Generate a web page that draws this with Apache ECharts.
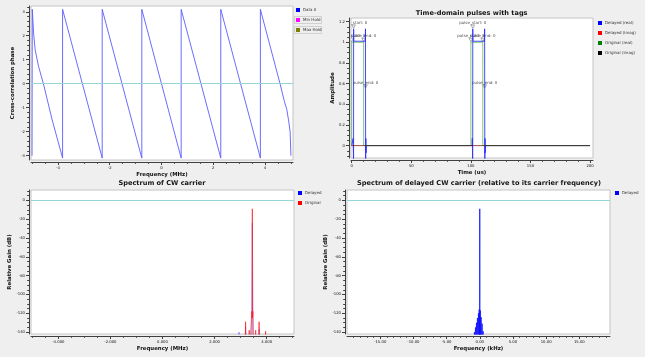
<!DOCTYPE html>
<html><head><meta charset="utf-8">
<script src="https://cdn.jsdelivr.net/npm/echarts@6/dist/echarts.min.js"></script>
<style>html,body{margin:0;padding:0;background:#efefef;}#c{width:645px;height:357px;}</style>
</head><body><div id="c"></div>
<script>
// ---------- Panel 1: cross-correlation phase ----------
const phaseFreq = [-5.0, -4.99, -4.94, -4.88, -4.75, -4.56, -4.23, -3.82, -3.82, -2.29, -2.29, -0.76, -0.76, 0.76, 0.76, 2.29, 2.29, 3.82, 3.82, 4.58, 4.75, 4.84, 4.92, 4.97, 5.0];
const phaseVal  = [-3.0, 3.1, 2.1, 1.42, 0.73, 0.0, -1.48, -3.1, 3.1, -3.1, 3.1, -3.1, 3.1, -3.1, 3.1, -3.1, 3.1, -3.1, 3.1, 0.0, -0.75, -1.07, -1.6, -2.02, -3.0];
const phaseXTicks = [-4, -2, 0, 2, 4];
const phaseYTicks = [-3, -2, -1, 0, 1, 2, 3];

// ---------- Panel 2: time-domain pulses ----------
const delayedRealT = [0, 1.1, 1.2, 1.4, 1.55, 1.6, 1.75, 11.45, 11.55, 11.6, 11.7, 11.85, 12.05, 12.2, 101.1, 101.2, 101.4, 101.55, 101.6, 101.75, 111.45, 111.55, 111.6, 111.7, 111.85, 112.05, 112.2, 200];
const delayedRealV = [0, 0, 0.07, -0.07, -0.2, 1.13, 1.01, 1.01, 1.13, 0.55, -0.2, 0.07, -0.07, 0, 0, 0.07, -0.07, -0.2, 1.13, 1.01, 1.01, 1.13, 0.55, -0.2, 0.07, -0.07, 0, 0];
const delayedImagT = [0, 200];
const delayedImagV = [0, 0];
const originalRealT = [0, 0, 10, 10, 100, 100, 110, 110, 200];
const originalRealV = [0, 1, 1, 0, 0, 1, 1, 0, 0];
const originalImagT = [0, 200];
const originalImagV = [0, 0];
const tagTime = [1.6, 11.6, 0, 10, 101.6, 111.6, 100, 110];
const tagAmp  = [1.13, 0.55, 1.0, 1.0, 1.13, 0.55, 1.0, 1.0];
const tagText = ['pulse_start: 0', 'pulse_end: 0', 'pulse_start: 0', 'pulse_end: 0', 'pulse_start: 0', 'pulse_end: 0', 'pulse_start: 0', 'pulse_end: 0'];
const timeXTicks = [0, 50, 100, 150, 200];
const timeYTicks = [0, 0.2, 0.4, 0.6, 0.8, 1, 1.2];

// ---------- Panel 3: spectrum of CW carrier ----------
const specDelFreq = [-5.05, 2.92, 2.94, 2.96, 3.17, 3.19, 3.21, 3.42, 3.45, 3.48, 3.69, 3.71, 3.73, 5.05];
const specDelDb   = [-160, -160, -140, -160, -160, -134, -160, -160, -24, -160, -160, -137, -160, -160];
const specOrigFreq = [-5.05, 3.17, 3.19, 3.21, 3.31, 3.33, 3.35, 3.41, 3.43, 3.445, 3.45, 3.455, 3.47, 3.49, 3.56, 3.58, 3.6, 3.69, 3.71, 3.73, 3.94, 3.96, 3.98, 5.05];
const specOrigDb   = [-160, -160, -129, -160, -160, -138, -160, -160, -118, -125, -9, -125, -118, -160, -160, -138, -160, -160, -129, -160, -160, -139, -160, -160];
const specXTicks = [-4, -2, 0, 2, 4];
const dbTicks = [0, -20, -40, -60, -80, -100, -120, -140];

// ---------- Panel 4: spectrum relative to carrier ----------
const relFreq = [-20, -0.9, -0.8, -0.72, -0.65, -0.57, -0.5, -0.42, -0.35, -0.27, -0.2, -0.13, -0.08, -0.03, 0, 0.03, 0.08, 0.13, 0.2, 0.27, 0.35, 0.42, 0.5, 0.57, 19.62];
const relDb   = [-160, -160, -140, -160, -135, -160, -130, -160, -125, -160, -120, -160, -116, -150, -9, -150, -117, -160, -124, -160, -131, -160, -139, -160, -160];
const relXTicks = [-15, -10, -5, 0, 5, 10, 15];

function pairs(xs, ys) { return xs.map((x, i) => [x, ys[i]]); }
function minorTicks(lo, hi, step) { const r = []; for (let v = lo; v <= hi + 1e-9; v += step) r.push(+v.toFixed(4)); return r; }

const FONT = 'DejaVu Sans';
const AX = '#404040';
const TXT = '#101010';

const grids = [
  { left: 31, top: 6, width: 262, height: 154 },
  { left: 351, top: 18, width: 242, height: 140 },
  { left: 31, top: 190, width: 263, height: 144 },
  { left: 347, top: 190, width: 263, height: 144 }
].map(g => Object.assign(g, { show: true, backgroundColor: '#ffffff', borderColor: '#c4c4c4', borderWidth: 1 }));

function majorX(gi, min, max, ticks, fmt, name, gap) {
  return { gridIndex: gi, type: 'value', position: 'bottom', min: min, max: max, offset: 2,
    axisLine: { show: true, onZero: false, lineStyle: { color: AX, width: 1 } },
    axisTick: { show: true, length: 3, customValues: ticks, lineStyle: { color: AX } },
    axisLabel: { customValues: ticks, formatter: fmt, fontSize: 3.8, margin: 4, color: TXT, fontFamily: FONT },
    splitLine: { show: false },
    name: name, nameLocation: 'middle', nameGap: gap,
    nameTextStyle: { fontSize: 5.4, fontWeight: 'bold', color: TXT, fontFamily: FONT } };
}
function minorX(gi, min, max, ticks) {
  return { gridIndex: gi, type: 'value', position: 'bottom', min: min, max: max, offset: 2,
    axisLine: { show: false, onZero: false },
    axisTick: { show: true, length: 1.8, customValues: ticks, lineStyle: { color: AX } },
    axisLabel: { show: false }, splitLine: { show: false } };
}
function majorY(gi, min, max, ticks, fmt, name, gap) {
  return { gridIndex: gi, type: 'value', position: 'left', min: min, max: max, offset: 2,
    axisLine: { show: true, onZero: false, lineStyle: { color: AX, width: 1 } },
    axisTick: { show: true, length: 3, customValues: ticks, lineStyle: { color: AX } },
    axisLabel: { customValues: ticks, formatter: fmt, fontSize: 3.8, margin: 4, color: TXT, fontFamily: FONT },
    splitLine: { show: false },
    name: name, nameLocation: 'middle', nameGap: gap,
    nameTextStyle: { fontSize: 5.4, fontWeight: 'bold', color: TXT, fontFamily: FONT } };
}
function minorY(gi, min, max, ticks) {
  return { gridIndex: gi, type: 'value', position: 'left', min: min, max: max, offset: 2,
    axisLine: { show: false, onZero: false },
    axisTick: { show: true, length: 1.8, customValues: ticks, lineStyle: { color: AX } },
    axisLabel: { show: false }, splitLine: { show: false } };
}

const f0 = v => String(v);
const f2 = v => v.toFixed(2);
const f3 = v => v.toFixed(3);

const xAxis = [
  majorX(0, -5.04, 5.08, phaseXTicks, f0, 'Frequency (MHz)', 10),
  majorX(1, -0.6, 202.5, timeXTicks, f0, 'Time (us)', 10),
  majorX(2, -5.05, 5.05, specXTicks, f3, 'Frequency (MHz)', 10),
  majorX(3, -20, 19.62, relXTicks, f2, 'Frequency (kHz)', 10),
  minorX(0, -5.04, 5.08, minorTicks(-5, 5, 0.5)),
  minorX(1, -0.6, 202.5, minorTicks(0, 200, 10)),
  minorX(2, -5.05, 5.05, minorTicks(-5, 5, 0.5)),
  minorX(3, -20, 19.62, minorTicks(-19, 19, 1))
];
const yAxis = [
  majorY(0, -3.18, 3.24, phaseYTicks, f0, 'Cross-correlation phase', 14),
  majorY(1, -0.12, 1.235, timeYTicks, f0, 'Amplitude', 14),
  majorY(2, -142, 11, dbTicks, f0, 'Relative Gain (dB)', 14),
  majorY(3, -142, 11, dbTicks, f0, 'Relative Gain (dB)', 14),
  minorY(0, -3.18, 3.24, minorTicks(-3, 3.2, 0.2)),
  minorY(1, -0.12, 1.235, minorTicks(-0.1, 1.2, 0.05)),
  minorY(2, -142, 11, minorTicks(-140, 10, 5)),
  minorY(3, -142, 11, minorTicks(-140, 10, 5))
];

const zeroLine = { silent: true, symbol: 'none', label: { show: false }, lineStyle: { color: '#92d6d8', type: 'solid', width: 1 }, data: [{ yAxis: 0 }], animation: false };

function line(name, xi, data, color, width, opacity, extra) {
  return Object.assign({ type: 'line', name: name, xAxisIndex: xi, yAxisIndex: xi, data: data,
    showSymbol: false, symbol: 'none', clip: true, animation: false,
    lineStyle: { color: color, width: width, opacity: opacity },
    itemStyle: { color: color } }, extra || {});
}

const series = [
  line('Data 0', 0, pairs(phaseFreq, phaseVal), '#5c5cff', 1, 0.9, { markLine: zeroLine }),
  line('Min Hold', 0, [], '#ff00ff', 1, 1),
  line('Max Hold', 0, [], '#808000', 1, 1),

  line('Delayed (real)', 1, pairs(delayedRealT, delayedRealV), '#2a2aff', 1, 0.85),
  line('Delayed (imag)', 1, pairs(delayedImagT, delayedImagV), '#ff0000', 1, 0.45),
  line('Original (real)', 1, pairs(originalRealT, originalRealV), '#1a9a1a', 1, 0.55),
  line('Original (imag)', 1, pairs(originalImagT, originalImagV), '#000000', 1, 0.4),
  { type: 'custom', name: 'tags', xAxisIndex: 1, yAxisIndex: 1, clip: true, animation: false, silent: true,
    data: pairs(tagTime, tagAmp),
    renderItem: function (params, api) {
      const p = api.coord([api.value(0), api.value(1)]);
      return { type: 'group', children: [
        { type: 'polygon', shape: { points: [[p[0] - 1.8, p[1] - 4], [p[0] + 1.8, p[1] - 4], [p[0], p[1] - 0.6]] },
          style: { fill: '#ffffff', stroke: '#707070', lineWidth: 0.6 } },
        { type: 'text', x: p[0], y: p[1] - 6.2,
          style: { text: tagText[params.dataIndex], fontSize: 4, fill: '#505050', align: 'center', verticalAlign: 'middle', fontFamily: FONT } }
      ] };
    } },

  line('Delayed', 2, pairs(specDelFreq, specDelDb), '#3a3aff', 1, 0.45, { markLine: zeroLine }),
  line('Original', 2, pairs(specOrigFreq, specOrigDb), '#ff2020', 1, 0.7),

  line('Delayed', 3, pairs(relFreq, relDb), '#1010ff', 1, 0.8, { markLine: zeroLine })
];

function legend(left, top, items) {
  return { orient: 'vertical', left: left, top: top, padding: 0, itemGap: 6, itemWidth: 4, itemHeight: 4,
    selectedMode: false, icon: 'rect',
    textStyle: { fontSize: 4, lineHeight: 4, color: '#303030', fontFamily: FONT, padding: [0, 0, 0, -2] },
    data: items.map(it => ({ name: it[0], icon: 'rect', itemStyle: { color: it[1] } })) };
}

const legends = [
  legend(296, 8, [['Data 0', '#0000ff'], ['Min Hold', '#ff00ff'], ['Max Hold', '#808000']]),
  legend(598, 21, [['Delayed (real)', '#0000ff'], ['Delayed (imag)', '#ff0000'], ['Original (real)', '#008000'], ['Original (imag)', '#000000']]),
  legend(298, 191, [['Delayed', '#0000ff'], ['Original', '#ff0000']]),
  legend(615, 191, [['Delayed', '#0000ff']])
];

const titleStyle = { fontSize: 6.6, fontWeight: 'bold', fill: '#151515', fontFamily: FONT, align: 'center', verticalAlign: 'middle' };
const graphic = [
  { type: 'text', x: 471.7, y: 13.7, style: Object.assign({ text: 'Time-domain pulses with tags' }, titleStyle) },
  { type: 'text', x: 162, y: 183.3, style: Object.assign({ text: 'Spectrum of CW carrier' }, titleStyle) },
  { type: 'text', x: 479, y: 183.3, style: Object.assign({ text: 'Spectrum of delayed CW carrier (relative to its carrier frequency)' }, titleStyle) },
  { type: 'rect', shape: { x: 294.5, y: 16.5, width: 27, height: 7 }, style: { fill: 'none', stroke: '#c8c8c8', lineWidth: 0.8 } },
  { type: 'rect', shape: { x: 294.5, y: 26.5, width: 27, height: 7 }, style: { fill: 'none', stroke: '#c8c8c8', lineWidth: 0.8 } }
];

const chart = echarts.init(document.getElementById('c'), null, { renderer: 'canvas' });
chart.setOption({
  backgroundColor: '#efefef',
  animation: false,
  textStyle: { fontFamily: FONT },
  grid: grids, xAxis: xAxis, yAxis: yAxis, series: series, legend: legends, graphic: graphic
});
</script></body></html>
